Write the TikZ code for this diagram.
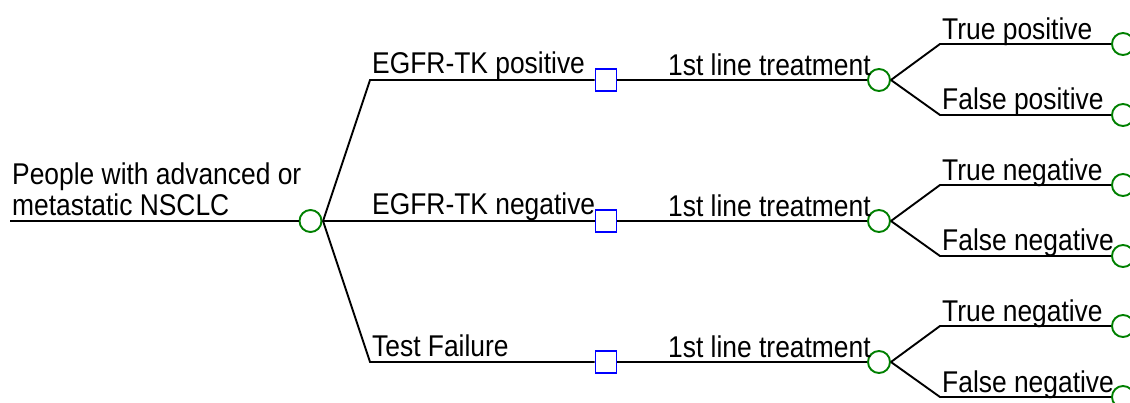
\documentclass[tikz,border=0pt]{standalone}
\usepackage{fontspec}
\newfontfamily\treefont[FakeStretch=0.88]{Liberation Sans}
\definecolor{chgreen}{RGB}{0,128,0}
\definecolor{decblue}{RGB}{0,0,255}
\begin{document}
\begin{tikzpicture}[x=1pt,y=-1pt,
  chance/.style={circle,draw=chgreen,line width=1.9pt,minimum size=22pt,inner sep=0pt},
  decision/.style={rectangle,draw=decblue,line width=1.9pt,minimum width=21pt,minimum height=22pt,inner sep=0pt},
  branch/.style={draw=black,line width=1.9pt},
  lbl/.style={anchor=base west,inner sep=0pt,font=\treefont\fontsize{30}{31}\selectfont}]
\useasboundingbox (0,0) rectangle (1130,403);
% root
\coordinate (r0) at (10,221);
\node[chance] (rc) at (310.5,221) {};
\coordinate (b0) at (323,221);
\node[lbl] (t0a) at (12,185) {People with advanced or};
\node[lbl] (t0b) at (12,216) {metastatic NSCLC};
\draw[branch] (r0) -- (rc.west);
% first level
\coordinate (a1) at (370,80);
\coordinate (a2) at (370,221);
\coordinate (a3) at (370,362);
\node[decision] (s1) at (606,80) {};
\node[decision] (s2) at (606,221) {};
\node[decision] (s3) at (606,362) {};
\node[chance] (c1) at (879,80) {};
\node[chance] (c2) at (879,221) {};
\node[chance] (c3) at (879,362) {};
\draw[branch] (b0) -- (a1) -- (s1.west);
\draw[branch] (b0) -- (a2) -- (s2.west);
\draw[branch] (b0) -- (a3) -- (s3.west);
\draw[branch] (s1.east) -- (c1.west);
\draw[branch] (s2.east) -- (c2.west);
\draw[branch] (s3.east) -- (c3.west);
\node[lbl] (l1) at (372,74) {EGFR-TK positive};
\node[lbl] (l2) at (372,215) {EGFR-TK negative};
\node[lbl] (l3) at (372,356) {Test Failure};
\node[lbl] (m1) at (668,76) {1st line treatment};
\node[lbl] (m2) at (668,217) {1st line treatment};
\node[lbl] (m3) at (668,358) {1st line treatment};
% second level
\foreach \i/\y in {1/80,2/221,3/362}{
  \coordinate (u\i) at (940,\y-36);
  \coordinate (v\i) at (940,\y+35);
  \node[chance] (eu\i) at (1123,\y-36) {};
  \node[chance] (ev\i) at (1123,\y+35) {};
  \draw[branch] (c\i.east) -- (u\i) -- (eu\i.west);
  \draw[branch] (c\i.east) -- (v\i) -- (ev\i.west);
}
\node[lbl] (p1) at (942,40) {True positive};
\node[lbl] (p2) at (942,110) {False positive};
\node[lbl] (n1) at (942,181) {True negative};
\node[lbl] (n2) at (942,251) {False negative};
\node[lbl] (n3) at (942,322) {True negative};
\node[lbl] (n4) at (942,392) {False negative};
\end{tikzpicture}
\end{document}
